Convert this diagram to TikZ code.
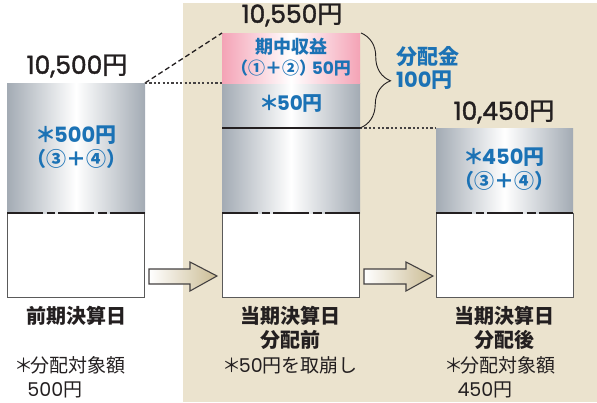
\documentclass[tikz,border=0pt]{standalone}
\usepackage{fontspec}
\setmainfont{Noto Sans CJK JP}
\newfontfamily\numf{Poppins}
\newfontfamily\numm{Poppins}[FakeBold=1.6]
\newfontfamily\cjkm{Noto Sans CJK JP}[FakeBold=1.2]
\usetikzlibrary{decorations.pathreplacing}
\definecolor{beige}{HTML}{EBE3CE}
\definecolor{steel}{HTML}{A3ABB4}
\definecolor{pinkc}{HTML}{F4A3B6}
\definecolor{blueT}{HTML}{1B72B5}
\definecolor{darkT}{HTML}{231F20}
\definecolor{tanc}{HTML}{CBBC94}
\definecolor{edgec}{HTML}{5A5A5A}
\newcommand\nb[1]{{\numf\bfseries #1}}
\newcommand\nr[1]{{\numf #1}}
\newcommand\tot[1]{{\numm #1}{\cjkm 円}}
\newcommand\myast{＊\hspace{-0.12em}}
\begin{document}
\begin{tikzpicture}[x=1pt,y=-1pt,
  graybox/.style={shade, left color=steel, right color=steel, middle color=white, minimum width=138pt, inner sep=0pt, outer sep=0pt},
  pinkbox/.style={shade, left color=pinkc, right color=pinkc, middle color=white, minimum width=138pt, minimum height=50pt, inner sep=0pt, outer sep=0pt},
  whitebox/.style={fill=white, draw=edgec, line width=0.8pt, minimum width=137pt, minimum height=84pt, inner sep=0pt, outer sep=0pt},
  breakln/.style={line width=1.6pt, darkT, dash pattern=on 36pt off 3.5pt on 8pt off 3.5pt on 36pt off 3.5pt on 9pt off 3pt on 40pt},
  total/.style={font=\fontsize{25}{27}\selectfont, text=darkT, inner sep=0pt},
  bluebig/.style={font=\fontsize{21}{23}\selectfont\bfseries, text=blueT, inner sep=0pt},
  bluemid/.style={font=\fontsize{18}{19}\selectfont\bfseries, text=blueT, inner sep=0pt},
  lab/.style={font=\fontsize{20}{24}\selectfont\bfseries, text=darkT, inner sep=0pt},
  note/.style={font=\fontsize{19}{24}\selectfont, text=darkT, inner sep=0pt},
  dotln/.style={line width=1.2pt, darkT!85, dash pattern=on 2.2pt off 2.2pt},
  dashln/.style={line width=1.3pt, darkT, dash pattern=on 5pt off 3pt},
  blockarrow/.style={draw=darkT!85, line width=1.1pt, left color=white, right color=tanc}
]
\useasboundingbox (0,0) rectangle (597,402);
\fill[beige] (183,3) rectangle (597,402);

% left column
\node[whitebox] (w1) at (76,255) {};
\node[graybox, minimum height=130pt] (g1) at (76,148) {};
\draw[breakln] (g1.south west) -- (g1.south east);
\node[total] (t1) at (77,66) {\tot{10,500}};
\node[bluebig] (v1) at (76,135) {\myast\nb{500}円};
\node[bluebig, font=\fontsize{20}{22}\selectfont\bfseries] (c1) at (76,159) {（③＋④）};

% middle column
\node[whitebox] (w2) at (291,255) {};
\node[graybox, minimum height=130pt] (g2) at (291,148) {};
\node[pinkbox] (p2) at (291,58) {};
\coordinate (m2l) at (222,128);
\coordinate (m2r) at (360,128);
\draw[line width=2.2pt, darkT] (m2l) -- (m2r);
\draw[breakln] (g2.south west) -- (g2.south east);
\node[total] (t2) at (292,15) {\tot{10,550}};
\node[bluemid, font=\fontsize{17}{21}\selectfont\bfseries, align=center] (i2) at (291,57) {{\fontsize{18}{21}\selectfont 期中収益}\\（①＋②）\hspace{-0.25em}\nb{50}円};
\node[bluebig, font=\fontsize{20}{22}\selectfont\bfseries] (v2) at (291,104) {\myast\nb{50}円};

% right column
\node[whitebox] (w3) at (504.5,255) {};
\node[graybox, minimum width=137pt, minimum height=85pt] (g3) at (504.5,170.5) {};
\draw[breakln] (g3.south west) -- (g3.south east);
\node[total] (t3) at (504,112) {\tot{10,450}};
\node[bluebig] (v3) at (504,157) {\myast\nb{450}円};
\node[bluebig, font=\fontsize{20}{22}\selectfont\bfseries] (c3) at (504,181) {（③＋④）};

% connecting lines
\draw[dashln] (g1.north east) -- (p2.north west);
\draw[dotln] (g1.north east) -- (g2.north west);
\draw[dotln] (m2r) -- (g3.north west);

% brace
\coordinate (bt) at (361,33);
\draw[decorate, decoration={brace, amplitude=30pt, aspect=0.5}, line width=0.9pt, darkT] (bt) -- (m2r);
\node[bluemid, font=\fontsize{21}{23}\selectfont\bfseries, align=left, anchor=west] (dist) at (396,68) {分配金\\\nb{100}円};

% block arrows (between the white boxes)
\coordinate (a1t) at (149,276);
\coordinate (a1h) at (217,276);
\shade[blockarrow] (a1t) ++(0,-7) -- ++(41,0) -- ++(0,-7) -- (a1h) -- ++(-27,15) -- ++(0,-7) -- ++(-41,0) -- cycle;
\coordinate (a2t) at (364,276);
\coordinate (a2h) at (433,276);
\shade[blockarrow] (a2t) ++(0,-7) -- ++(42,0) -- ++(0,-7) -- (a2h) -- ++(-27,15) -- ++(0,-7) -- ++(-42,0) -- cycle;

% bottom labels
\node[lab] (d1) at (76,316) {前期決算日};
\node[note, align=left, anchor=west] (n1) at (14,377) {\myast 分配対象額\\\hspace*{0.7em}\nr{500}円};

\node[lab, align=center] (d2) at (290,328) {当期決算日\\分配前};
\node[note] (n2) at (290,365) {\myast\nr{50}円を取崩し};

\node[lab, align=center] (d3) at (504,328) {当期決算日\\分配後};
\node[note, align=left, anchor=west] (n3) at (444,377) {\myast 分配対象額\\\hspace*{0.7em}\nr{450}円};
\end{tikzpicture}
\end{document}
